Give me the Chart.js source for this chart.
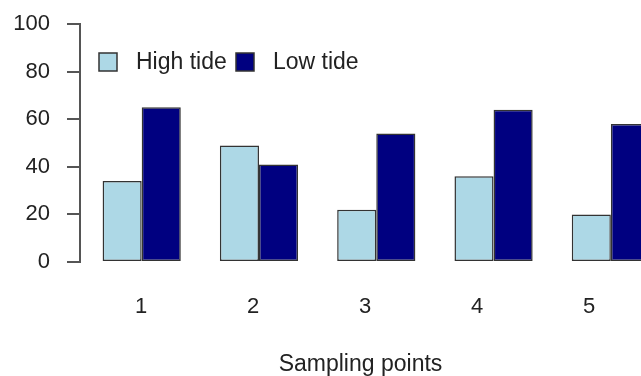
<!DOCTYPE html>
<html lang="en">
<head>
<meta charset="UTF-8" />
<title>High tide vs Low tide</title>
<script src="https://cdn.jsdelivr.net/npm/chart.js@4.4.1/dist/chart.umd.min.js"></script>
<style>
    html, body { margin: 0; padding: 0; background: #ffffff; overflow: hidden; }
    .wrap { position: relative; width: 641px; height: 376px; }
    canvas { display: block; }
</style>
</head>
<body>
<div class="wrap"><canvas id="tideChart" width="641" height="376"></canvas></div>
<script>
// data
const categories = ['1', '2', '3', '4', '5'];
const highTide = [34, 49, 22, 36, 20];
const lowTide = [65, 41, 54, 64, 58];
const seriesNames = ['High tide', 'Low tide'];
const seriesColors = ['#add8e6', '#000080'];
const axisTitle = 'Sampling points';

const FONT = "'Liberation Sans', Arial, sans-serif";
const TEXT = '#222222';
const AXIS = '#555555';

// legend drawn inside the plot like R's legend()
const insideLegend = {
    id: 'insideLegend',
    afterDraw(chart, args, opts) {
        const ctx = chart.ctx;
        ctx.save();
        ctx.font = opts.fontSize + 'px ' + FONT;
        ctx.textBaseline = 'middle';
        ctx.textAlign = 'left';
        chart.data.datasets.forEach((ds, i) => {
            const x = opts.xs[i];
            const y = opts.y;
            ctx.fillStyle = ds.backgroundColor;
            ctx.fillRect(x, y, opts.box, opts.box);
            ctx.strokeStyle = '#333333';
            ctx.lineWidth = 1.5;
            ctx.strokeRect(x, y, opts.box, opts.box);
            ctx.fillStyle = TEXT;
            ctx.fillText(ds.label, x + opts.gap, y + opts.box / 2 + 1);
        });
        ctx.restore();
    }
};

const toPoints = arr => arr.map((v, i) => ({ x: i + 1, y: v }));
const categoryTicks = scale => {
    scale.ticks = categories.map((c, i) => ({ value: i + 1 }));
};

new Chart(document.getElementById('tideChart'), {
    type: 'bar',
    data: {
        datasets: [
            { label: seriesNames[0], data: toPoints(highTide), backgroundColor: seriesColors[0] },
            { label: seriesNames[1], data: toPoints(lowTide), backgroundColor: seriesColors[1] }
        ]
    },
    plugins: [insideLegend],
    options: {
        responsive: false,
        animation: false,
        layout: { padding: { top: 24, left: 0, right: 0, bottom: 0 } },
        datasets: {
            bar: {
                categoryPercentage: 2 / 3,
                barPercentage: 1,
                borderColor: '#333333',
                borderWidth: 1.5,
                borderSkipped: false
            }
        },
        plugins: {
            legend: { display: false },
            tooltip: { enabled: false },
            insideLegend: { xs: [99, 236], y: 53, box: 18, gap: 37, fontSize: 23 }
        },
        scales: {
            x: {
                type: 'linear',
                display: false,
                offset: false,
                min: 0.474,
                max: 5.257,
                afterBuildTicks: categoryTicks
            },
            xl: {
                type: 'linear',
                position: 'bottom',
                offset: false,
                min: 0.455,
                max: 5.464,
                grid: { display: false, drawTicks: false, offset: false },
                border: { display: false },
                afterBuildTicks: categoryTicks,
                afterFit: scale => { scale.height = 114; },
                ticks: {
                    padding: 32,
                    color: TEXT,
                    font: { family: FONT, size: 22 },
                    maxRotation: 0,
                    callback: (v, i) => categories[i]
                },
                title: {
                    display: true,
                    text: axisTitle,
                    color: TEXT,
                    padding: { top: 0, bottom: -2 },
                    font: { family: FONT, size: 23 }
                }
            },
            y: {
                min: 0,
                max: 100,
                afterFit: scale => {
                    scale.width = 80;
                    scale.paddingTop = 0;
                    scale.paddingBottom = 0;
                },
                ticks: {
                    stepSize: 20,
                    padding: 17,
                    color: TEXT,
                    font: { family: FONT, size: 22 }
                },
                grid: {
                    drawOnChartArea: false,
                    drawTicks: true,
                    tickLength: 13,
                    color: AXIS,
                    lineWidth: 2
                },
                border: { display: true, color: AXIS, width: 2 }
            }
        }
    }
});
</script>
</body>
</html>
